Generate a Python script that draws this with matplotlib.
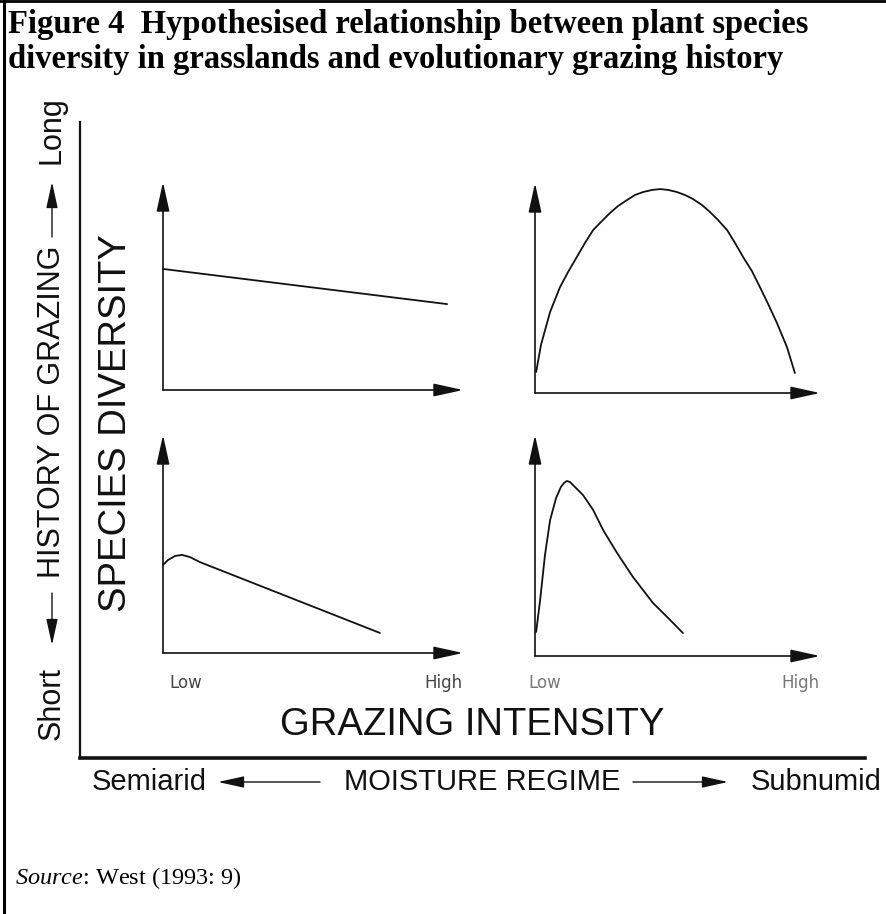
import matplotlib
matplotlib.use("Agg")
import matplotlib.pyplot as plt

W, H = 887, 914
INK = "#111111"
SANS = "Liberation Sans"
SERIF = "Liberation Serif"

# curves: x = grazing intensity (0 = axis, 1 = arrow tip),
# y = species diversity (0 = axis, 1 = arrow tip)
TOP_LEFT_X = [0.0, 0.947]
TOP_LEFT_Y = [0.582, 0.413]

TOP_RIGHT_X = [0.004, 0.021, 0.053, 0.088, 0.116, 0.147, 0.175, 0.204, 0.235, 0.263,
               0.291, 0.323, 0.351, 0.379, 0.411, 0.439, 0.467, 0.498, 0.526, 0.554,
               0.586, 0.614, 0.642, 0.674, 0.702, 0.730, 0.761, 0.789, 0.818, 0.849,
               0.884, 0.912]
TOP_RIGHT_Y = [0.100, 0.229, 0.386, 0.505, 0.576, 0.648, 0.714, 0.776, 0.819, 0.857,
               0.890, 0.919, 0.943, 0.957, 0.967, 0.971, 0.967, 0.957, 0.943, 0.924,
               0.895, 0.862, 0.824, 0.776, 0.714, 0.648, 0.581, 0.505, 0.424, 0.333,
               0.219, 0.095]

BOTTOM_LEFT_X = [0.0, 0.017, 0.040, 0.063, 0.090, 0.123, 0.723]
BOTTOM_LEFT_Y = [0.404, 0.427, 0.445, 0.450, 0.440, 0.417, 0.092]

BOTTOM_RIGHT_X = [0.004, 0.018, 0.035, 0.053, 0.074, 0.091, 0.102, 0.112, 0.123, 0.133,
                  0.168, 0.204, 0.239, 0.288, 0.344, 0.414, 0.474, 0.519]
BOTTOM_RIGHT_Y = [0.109, 0.253, 0.457, 0.615, 0.715, 0.765, 0.783, 0.792, 0.787, 0.774,
                  0.729, 0.661, 0.570, 0.466, 0.357, 0.240, 0.163, 0.104]

TITLE_LINES = ["Figure 4  Hypothesised relationship between plant species",
               "diversity in grasslands and evolutionary grazing history"]
INTENSITY_TICKS = ["Low", "High"]


def arrow_props(lw=1.2, scale=18):
    return dict(arrowstyle="-|>,head_length=1.0,head_width=0.22", color=INK,
                lw=lw, mutation_scale=scale, shrinkA=0, shrinkB=0)


def add_panel(fig, left, bottom, right, top, xs, ys):
    ax = fig.add_axes([left / W, 1 - bottom / H, (right - left) / W, (bottom - top) / H])
    ax.set_xlim(0, 1)
    ax.set_ylim(0, 1)
    ax.axis("off")
    ax.annotate("", xy=(0, 1), xytext=(0, 0), xycoords="axes fraction",
                arrowprops=arrow_props(), annotation_clip=False)
    ax.annotate("", xy=(1, 0), xytext=(0, 0), xycoords="axes fraction",
                arrowprops=arrow_props(), annotation_clip=False)
    ax.plot(xs, ys, color=INK, lw=1.3, clip_on=False, solid_capstyle="round",
            solid_joinstyle="round")
    return ax


def main() -> None:
    plt.rcParams["mathtext.fontset"] = "custom"
    plt.rcParams["mathtext.it"] = "Liberation Serif:italic"
    plt.rcParams["mathtext.rm"] = "Liberation Serif"

    fig = plt.figure(figsize=(W / 100, H / 100), dpi=100)
    bg = fig.add_axes([0, 0, 1, 1])
    bg.set_xlim(0, W)
    bg.set_ylim(H, 0)
    bg.axis("off")

    # frame of the scanned page
    bg.plot([4, 4], [0, H], color="black", lw=2.2)
    bg.plot([0, W], [1, 1], color="black", lw=2.0)

    for line, base in zip(TITLE_LINES, [33, 68]):
        bg.text(8, base, line, fontfamily=SERIF, fontweight="bold", fontsize=23.5,
                va="baseline", ha="left", color="black")

    # big outer axes
    bg.plot([80, 80], [122, 758], color=INK, lw=1.6)
    bg.plot([80, 865], [758, 758], color=INK, lw=2.6)

    # history of grazing, rotated
    bg.text(52, 704, "Short", rotation=90, fontfamily=SANS, fontsize=22,
            ha="center", va="center", color=INK)
    bg.text(52, 412, "HISTORY OF GRAZING", rotation=90, fontfamily=SANS, fontsize=22,
            ha="center", va="center", color=INK)
    bg.text(52, 130, "Long", rotation=90, fontfamily=SANS, fontsize=22,
            ha="center", va="center", color=INK)
    bg.annotate("", xy=(52, 645), xytext=(52, 593), arrowprops=arrow_props(1.0, 16))
    bg.annotate("", xy=(52, 182), xytext=(52, 237), arrowprops=arrow_props(1.0, 16))

    bg.text(116, 423, "SPECIES DIVERSITY", rotation=90, fontfamily=SANS, fontsize=27.5,
            ha="center", va="center", color=INK)

    add_panel(fig, 163, 390, 463, 182, TOP_LEFT_X, TOP_LEFT_Y)
    add_panel(fig, 535, 393, 820, 183, TOP_RIGHT_X, TOP_RIGHT_Y)
    add_panel(fig, 163, 653, 463, 435, BOTTOM_LEFT_X, BOTTOM_LEFT_Y)
    add_panel(fig, 535, 656, 820, 435, BOTTOM_RIGHT_X, BOTTOM_RIGHT_Y)

    for x_low, x_high, shade in [(169, 463, "#444444"), (528, 820, "#777777")]:
        bg.text(x_low, 683, INTENSITY_TICKS[0], fontfamily="DejaVu Sans", fontsize=12,
                ha="left", va="center", color=shade)
        bg.text(x_high, 683, INTENSITY_TICKS[1], fontfamily="DejaVu Sans", fontsize=12,
                ha="right", va="center", color=shade)

    bg.text(472, 725, "GRAZING INTENSITY", fontfamily=SANS, fontsize=27.5,
            ha="center", va="center", color=INK)

    # moisture regime row
    bg.text(92, 782, "Semiarid", fontfamily=SANS, fontsize=21, ha="left", va="center", color=INK)
    bg.annotate("", xy=(218, 782), xytext=(320, 782), arrowprops=arrow_props(1.0, 16))
    bg.text(482, 782, "MOISTURE REGIME", fontfamily=SANS, fontsize=21,
            ha="center", va="center", color=INK)
    bg.annotate("", xy=(728, 782), xytext=(633, 782), arrowprops=arrow_props(1.0, 16))
    bg.text(882, 782, "Subnumid", fontfamily=SANS, fontsize=21, ha="right", va="center", color=INK)

    bg.text(15, 884, r"$\mathit{Source}$: West (1993: 9)", fontfamily=SERIF, fontsize=17.5,
            ha="left", va="baseline", color="black")

    fig.savefig("out.png", dpi=100)
    plt.close(fig)


if __name__ == "__main__":
    main()
